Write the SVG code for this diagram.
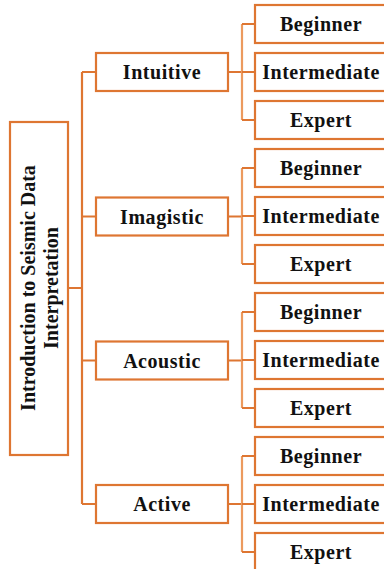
<svg xmlns="http://www.w3.org/2000/svg" width="384" height="569" viewBox="0 0 384 569">
<style>
.box{fill:#fff;stroke:#DE7632;stroke-width:2.2}
.ln{fill:none;stroke:#DE7632;stroke-width:2.2}
.ln2{fill:none;stroke:#EC9A5E;stroke-width:2.2}
text{font-family:"Liberation Serif","Times New Roman",serif;font-weight:bold;font-size:20px;fill:#111;text-anchor:middle}
.t{letter-spacing:0.55px}
</style>
<rect width="384" height="569" fill="#fff"/>
<g id="connectors">
<path class="ln" d="M68 288H82M82 72V504M82 72H96M82 216.5H96M82 360.5H96M82 504H96"/>
<path class="ln" d="M228 72H242M228 216.5H242M228 360.5H242M228 504H242"/>
<path class="ln2" d="M242 24V120M242 168V264M242 312V408M242 456V552"/>
<path class="ln" d="M242 24H255M242 72H255M242 120H255M242 168H255M242 216H255M242 264H255M242 312H255M242 360H255M242 408H255M242 456H255M242 504H255M242 552H255"/>
</g>
<g id="root">
<rect class="box" x="10" y="122" width="58" height="333"/>
<g transform="translate(35,288) rotate(-90)">
<text x="0" y="0">Introduction to Seismic Data</text>
<text x="0" y="23">Interpretation</text>
</g>
</g>
<g id="intuitive"><rect class="box" x="96" y="53" width="132" height="38"/><text class="t" x="162" y="79">Intuitive</text></g>
<g id="imagistic"><rect class="box" x="96" y="197.5" width="132" height="38"/><text class="t" x="162" y="223.5">Imagistic</text></g>
<g id="acoustic"><rect class="box" x="96" y="341.5" width="132" height="38"/><text class="t" x="162" y="367.5">Acoustic</text></g>
<g id="active"><rect class="box" x="96" y="485" width="132" height="38"/><text class="t" x="162" y="511">Active</text></g>
<g id="intuitive-beginner"><rect class="box" x="255" y="5" width="132" height="38"/><text class="t" x="321" y="31">Beginner</text></g>
<g id="intuitive-intermediate"><rect class="box" x="255" y="53" width="132" height="38"/><text class="t" x="321" y="79">Intermediate</text></g>
<g id="intuitive-expert"><rect class="box" x="255" y="101" width="132" height="38"/><text class="t" x="321" y="127">Expert</text></g>
<g id="imagistic-beginner"><rect class="box" x="255" y="149" width="132" height="38"/><text class="t" x="321" y="175">Beginner</text></g>
<g id="imagistic-intermediate"><rect class="box" x="255" y="197" width="132" height="38"/><text class="t" x="321" y="223">Intermediate</text></g>
<g id="imagistic-expert"><rect class="box" x="255" y="245" width="132" height="38"/><text class="t" x="321" y="271">Expert</text></g>
<g id="acoustic-beginner"><rect class="box" x="255" y="293" width="132" height="38"/><text class="t" x="321" y="319">Beginner</text></g>
<g id="acoustic-intermediate"><rect class="box" x="255" y="341" width="132" height="38"/><text class="t" x="321" y="367">Intermediate</text></g>
<g id="acoustic-expert"><rect class="box" x="255" y="389" width="132" height="38"/><text class="t" x="321" y="415">Expert</text></g>
<g id="active-beginner"><rect class="box" x="255" y="437" width="132" height="38"/><text class="t" x="321" y="463">Beginner</text></g>
<g id="active-intermediate"><rect class="box" x="255" y="485" width="132" height="38"/><text class="t" x="321" y="511">Intermediate</text></g>
<g id="active-expert"><rect class="box" x="255" y="533" width="132" height="38"/><text class="t" x="321" y="559">Expert</text></g>
</svg>
